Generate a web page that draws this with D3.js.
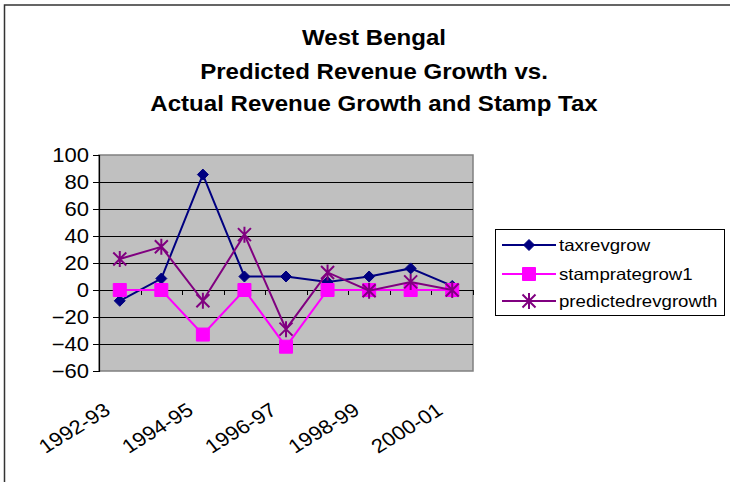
<!DOCTYPE html>
<html>
<head>
<meta charset="utf-8">
<script src="https://cdn.jsdelivr.net/npm/d3@7"></script>
<style>
html,body{margin:0;padding:0;background:#fff;}
svg{display:block;font-family:Arial,"Liberation Sans",sans-serif;}
</style>
</head>
<body>
<svg id="chart" width="730" height="482"></svg>
<script>
const categories = ["1992-93","1993-94","1994-95","1995-96","1996-97","1997-98","1998-99","1999-00","2000-01"];
const tickLabels = ["1992-93","1994-95","1996-97","1998-99","2000-01"];
const taxrevgrow = [-8, 8.5, 85.5, 10, 10, 6, 10, 16, 3];
const stamprategrow1 = [0, 0, -33, 0, -42, 0, 0, 0, 0];
const predictedrevgrowth = [23, 32, -8, 41, -29, 13, -0.5, 6, 0];
const yTicks = [-60,-40,-20,0,20,40,60,80,100];
const titleLines = ["West Bengal","Predicted Revenue Growth vs.","Actual Revenue Growth and Stamp Tax"];

const series = [
  {name:"taxrevgrow", values:taxrevgrow, color:"#000080", marker:"diamond"},
  {name:"stamprategrow1", values:stamprategrow1, color:"#FF00FF", marker:"square"},
  {name:"predictedrevgrowth", values:predictedrevgrowth, color:"#800080", marker:"star"}
];

const svg = d3.select("#chart");
const SX = 1.13;

// outer border
svg.append("rect").attr("x",4.5).attr("y",5).attr("width",740).attr("height",500)
  .attr("fill","#fff").attr("stroke","#333").attr("stroke-width",1.5);

// title
titleLines.forEach((t,i)=>{
  svg.append("text").attr("transform",`translate(374,${[45,79,111][i]}) scale(${SX},1)`)
    .attr("text-anchor","middle").attr("font-weight","bold").attr("font-size",21.3)
    .attr("fill","#000").text(t);
});

const L=99, R=473, T=155, B=371;
const x = d3.scaleBand().domain(categories).range([L,R]);
const y = d3.scaleLinear().domain([-60,100]).range([B,T]);
const cx = c => x(c) + x.bandwidth()/2;

// plot area
svg.append("rect").attr("x",L).attr("y",T).attr("width",R-L).attr("height",B-T)
  .attr("fill","#C0C0C0").attr("stroke","#808080").attr("stroke-width",1.5);

// gridlines
svg.append("g").selectAll("line").data(yTicks.filter(v=>v>-60 && v<100)).join("line")
  .attr("x1",L).attr("x2",R).attr("y1",d=>Math.round(y(d))+0.5).attr("y2",d=>Math.round(y(d))+0.5)
  .attr("stroke","#000").attr("stroke-width",1);

// y axis
const yAxis = d3.axisLeft(y).tickValues(yTicks).tickSize(6).tickPadding(5);
const gy = svg.append("g").attr("transform",`translate(${L},0)`).call(yAxis);
gy.select(".domain").attr("stroke","#000").attr("stroke-width",1.2);
gy.selectAll(".tick line").attr("stroke","#000");
gy.selectAll(".tick text").attr("font-size",19.5).attr("fill","#000")
  .attr("font-family","Arial,'Liberation Sans',sans-serif")
  .attr("x",0).attr("transform",`translate(-10,0) scale(${SX},1)`);

// x axis at zero line with ticks at band boundaries
const gx = svg.append("g");
gx.append("line").attr("x1",L).attr("x2",R).attr("y1",Math.round(y(0))+0.5).attr("y2",Math.round(y(0))+0.5)
  .attr("stroke","#000").attr("stroke-width",1.2);
gx.selectAll("line.tk").data(categories.slice(1)).join("line").attr("class","tk")
  .attr("x1",d=>Math.round(x(d))+0.5).attr("x2",d=>Math.round(x(d))+0.5)
  .attr("y1",y(0)).attr("y2",y(0)+5).attr("stroke","#000");
gx.append("line").attr("x1",R+0.5).attr("x2",R+0.5).attr("y1",y(0)).attr("y2",y(0)+5).attr("stroke","#000");

// x labels
svg.append("g").selectAll("text").data(tickLabels).join("text")
  .attr("transform",d=>`translate(${cx(d)-8},${413}) scale(${SX},1) rotate(-35)`)
  .attr("text-anchor","end").attr("font-size",19.5).attr("fill","#000").text(d=>d);

// markers
function markerPath(type){
  const p = d3.path();
  if(type==="diamond"){ const s=5.5; p.moveTo(0,-s);p.lineTo(s,0);p.lineTo(0,s);p.lineTo(-s,0);p.closePath(); }
  else if(type==="square"){ const s=6.5; p.rect(-s,-s,2*s,2*s); }
  else { const s=6.5; p.moveTo(-s,-s);p.lineTo(s,s);p.moveTo(-s,s);p.lineTo(s,-s);p.moveTo(0,-s-1.5);p.lineTo(0,s+1.5); }
  return p.toString();
}
function drawMarker(g,type,color){
  if(type==="star") g.append("path").attr("d",markerPath(type)).attr("fill","none").attr("stroke",color).attr("stroke-width",2);
  else g.append("path").attr("d",markerPath(type)).attr("fill",color).attr("stroke",color).attr("stroke-width",1);
}

const line = d3.line().x((d,i)=>cx(categories[i])).y(d=>y(d));
series.forEach(s=>{
  const g = svg.append("g");
  g.append("path").attr("d",line(s.values)).attr("fill","none").attr("stroke",s.color).attr("stroke-width",2);
  s.values.forEach((v,i)=>{
    const m = g.append("g").attr("transform",`translate(${cx(categories[i])},${y(v)})`);
    drawMarker(m,s.marker,s.color);
  });
});

// legend
const lg = svg.append("g");
lg.append("rect").attr("x",495.5).attr("y",229.5).attr("width",229).attr("height",86)
  .attr("fill","#fff").attr("stroke","#000").attr("stroke-width",1);
series.forEach((s,i)=>{
  const yy = [245,274,301][i];
  lg.append("line").attr("x1",502).attr("x2",556).attr("y1",yy).attr("y2",yy).attr("stroke",s.color).attr("stroke-width",2);
  const m = lg.append("g").attr("transform",`translate(529,${yy})`);
  drawMarker(m,s.marker,s.color);
  lg.append("text").attr("transform",`translate(559,${yy+6}) scale(${SX},1)`)
    .attr("font-size",16.5).attr("fill","#000").text(s.name);
});
</script>
</body>
</html>
